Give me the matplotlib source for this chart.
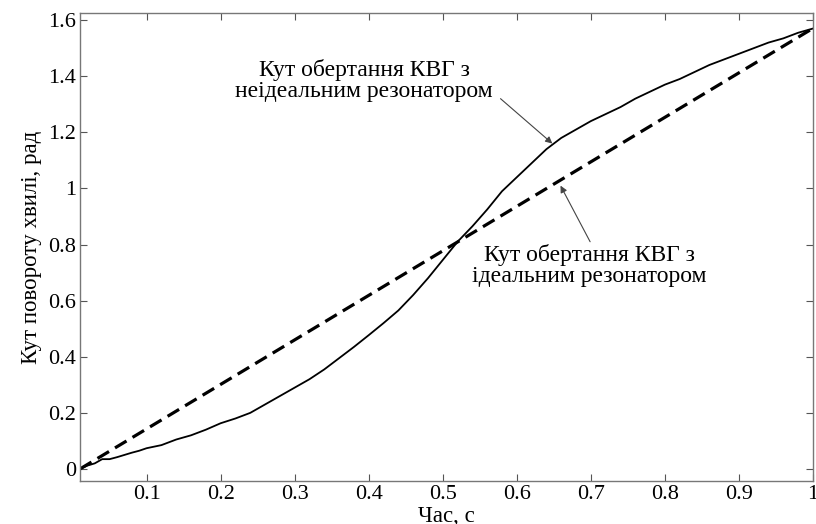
import matplotlib
matplotlib.use("Agg")
import matplotlib.pyplot as plt

# Data
time = [0.01, 0.02, 0.03, 0.04, 0.05, 0.06, 0.07, 0.08, 0.09, 0.10, 0.12, 0.14, 0.16, 0.18,
        0.20, 0.22, 0.24, 0.26, 0.28, 0.30, 0.32, 0.34, 0.36, 0.38, 0.40, 0.42, 0.44, 0.46,
        0.48, 0.50, 0.52, 0.54, 0.56, 0.58, 0.60, 0.62, 0.64, 0.66, 0.68, 0.70, 0.72, 0.74,
        0.76, 0.78, 0.80, 0.82, 0.84, 0.86, 0.88, 0.90, 0.92, 0.94, 0.96, 0.98, 1.00]
angle_real = [0.00, 0.012, 0.02, 0.035, 0.035, 0.042, 0.05, 0.058, 0.065, 0.074, 0.085, 0.105,
              0.12, 0.14, 0.163, 0.18, 0.20, 0.23, 0.26, 0.29, 0.32, 0.355, 0.395, 0.435,
              0.477, 0.52, 0.565, 0.62, 0.68, 0.745, 0.81, 0.865, 0.925, 0.99, 1.04, 1.09,
              1.14, 1.18, 1.21, 1.24, 1.265, 1.29, 1.32, 1.345, 1.37, 1.39, 1.415, 1.44, 1.46,
              1.48, 1.50, 1.52, 1.535, 1.555, 1.57]
ideal_time = [0.01, 1.00]
ideal_angle = [0.0, 1.5708]

xticks = [0.1, 0.2, 0.3, 0.4, 0.5, 0.6, 0.7, 0.8, 0.9, 1.0]
xticklabels = ["0.1", "0.2", "0.3", "0.4", "0.5", "0.6", "0.7", "0.8", "0.9", "1"]
yticks = [0, 0.2, 0.4, 0.6, 0.8, 1.0, 1.2, 1.4, 1.6]
yticklabels = ["0", "0.2", "0.4", "0.6", "0.8", "1", "1.2", "1.4", "1.6"]

plt.rcParams['font.family'] = ['Liberation Serif', 'DejaVu Serif']

fig = plt.figure(figsize=(8.16, 5.24), dpi=100)
ax = fig.add_axes([0.098, 0.082, 0.8983, 0.893])

ax.plot(time, angle_real, color='black', lw=1.3)
ax.plot(ideal_time, ideal_angle, color='black', lw=2.3, dashes=(4.2, 2.2))

ax.set_xlim(0.01, 1.0)
ax.set_ylim(-0.043, 1.625)
ax.set_xticks(xticks)
ax.set_xticklabels(xticklabels)
ax.set_yticks(yticks)
ax.set_yticklabels(yticklabels)
ax.tick_params(direction='in', length=5, width=0.8, color='#555555', labelsize=16,
               top=True, right=True)
ax.tick_params(axis='y', pad=3)
ax.tick_params(axis='x', pad=3)
for s in ax.spines.values():
    s.set_color('#777777')
    s.set_linewidth(1.0)

ax.set_xlabel("Час, с", fontsize=16.5, labelpad=1)
ax.set_ylabel("Кут повороту хвилі, рад", fontsize=16.5, labelpad=4)

arrowprops = dict(arrowstyle='-|>', color='#444444', lw=0.8, mutation_scale=10,
                  shrinkA=0, shrinkB=0)
ax.text(0.394, 1.385, "Кут обертання КВГ з\nнеідеальним резонатором", ha='center',
        va='center', fontsize=17, linespacing=0.95)
ax.annotate("", xy=(0.648, 1.16), xytext=(0.578, 1.32), arrowprops=arrowprops)
ax.text(0.698, 0.725, "Кут обертання КВГ з\nідеальним резонатором", ha='center',
        va='center', fontsize=17, linespacing=0.95)
ax.annotate("", xy=(0.659, 1.01), xytext=(0.699, 0.81), arrowprops=arrowprops)

fig.savefig("out.png", dpi=100)
